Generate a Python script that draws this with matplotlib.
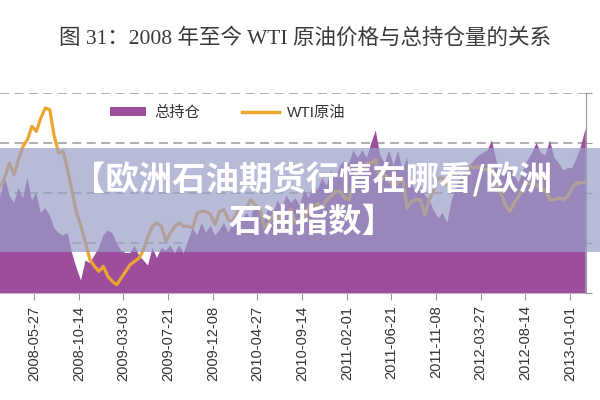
import matplotlib
matplotlib.use("Agg")
import matplotlib.pyplot as plt
from matplotlib.patches import Patch, Rectangle
from matplotlib.lines import Line2D
import pandas as pd

# biweekly samples starting 2008-01-29
start_date = "2008-01-29"

# total open interest (万手)
open_interest = [
    139, 139, 146, 139, 136, 142, 138, 146, 137, 140,
    132, 134, 131, 126, 124, 123, 124, 116, 110, 105,
    113, 112, 115, 118, 123, 125, 124, 120, 117, 116,
    116, 119, 115, 113, 111, 118, 114, 118, 117, 119,
    116, 119, 116, 121, 126, 123, 128, 124, 127, 123,
    125, 128, 124, 128, 131, 129, 132, 130, 135, 132,
    129, 134, 132, 137, 134, 139, 136, 138, 135, 141,
    138, 144, 141, 146, 143, 149, 146, 151, 153, 152,
    157, 154, 157, 154, 160, 165, 155, 152, 157, 151,
    157, 149, 154, 144, 140, 143, 139, 137, 133, 130,
    132, 128, 137, 142, 146, 148, 151, 153, 155, 156,
    157, 161, 153, 148, 150, 151, 147, 144, 149, 153,
    156, 160, 156, 155, 161, 154, 152, 149, 150, 150,
    154, 159, 166,
]

# WTI crude price (USD/bbl)
wti_price = [
    92, 94, 100, 108, 101, 110, 118, 122, 130, 127,
    135, 141, 140, 124, 114, 115, 104, 91, 78, 70,
    60, 50, 46, 43, 46, 40, 37, 35, 39, 43,
    47, 49, 51, 56, 64, 70, 72, 70, 61, 66,
    70, 72, 70, 70, 69, 78, 79, 79, 77, 71,
    79, 80, 74, 73, 79, 81, 81, 86, 83, 81,
    70, 72, 77, 75, 76, 78, 80, 72, 74, 74,
    82, 80, 84, 81, 86, 88, 91, 91, 87, 86,
    95, 104, 104, 108, 108, 110, 97, 101, 98, 93,
    96, 99, 81, 85, 86, 86, 77, 86, 92, 99,
    99, 95, 100, 102, 99, 98, 106, 105, 106, 104,
    104, 106, 94, 90, 83, 79, 84, 88, 93, 96,
    95, 95, 92, 92, 86, 86, 87, 86, 88, 93,
    96, 96, 97,
]

tick_labels = [
    "2008-05-27", "2008-10-14", "2009-03-03", "2009-07-21", "2009-12-08",
    "2010-04-27", "2010-09-14", "2011-02-01", "2011-06-21", "2011-11-08",
    "2012-03-27", "2012-08-14", "2013-01-01",
]

PURPLE = "#9c4e9c"
ORANGE = "#eca52f"
CJK = ["Liberation Sans", "Noto Sans CJK SC"]

dates = pd.date_range(start_date, periods=len(open_interest), freq="14D")

fig = plt.figure(figsize=(6, 4), dpi=100)
ax = fig.add_axes([0, 1 - 293 / 400, 585.7 / 600, 200 / 400])
ax2 = ax.twinx()

ax.fill_between(dates, open_interest, 0, color=PURPLE, linewidth=0)
ax.set_ylim(100, 180)
ax.set_yticks([100, 120, 140, 160, 180])
ax.grid(axis="y", color="#a8a8a8", linestyle=(0, (5, 3)), linewidth=1.3)
ax.set_axisbelow(True)
ax.tick_params(axis="y", left=False, labelleft=False)

ax2.plot(dates, wti_price, color=ORANGE, linewidth=2.3)
ax2.set_ylim(30, 150)
ax2.set_yticks([30, 60, 90, 120, 150])
ax2.tick_params(axis="y", right=True, labelright=False, length=4, color="#999999")

ax.set_xlim(pd.Timestamp("2008-02-10"), pd.Timestamp("2013-02-19"))
ax.set_xticks(pd.to_datetime(tick_labels))
ax.set_xticklabels(tick_labels, rotation=90, fontsize=10.5,
                   family="Liberation Sans", color="#333333")
ax.tick_params(axis="x", length=5, color="#999999", pad=4)

for s in ["top", "left", "right"]:
    ax.spines[s].set_visible(False)
ax.spines["bottom"].set_color("#bbbbbb")
for s in ["top", "left", "bottom"]:
    ax2.spines[s].set_visible(False)
ax2.spines["right"].set_color("#999999")

handles = [Patch(facecolor=PURPLE, edgecolor="none"),
           Line2D([], [], color=ORANGE, linewidth=2.5)]
fig.legend(handles, ["总持仓", "WTI原油"], loc="center",
           bbox_to_anchor=(0.379, 0.7175), ncol=2, frameon=False,
           prop={"family": CJK, "size": 11}, labelcolor="#333333",
           handlelength=2.4, handleheight=0.5, handletextpad=0.5,
           columnspacing=2.8)

fig.text(0.508, 0.905, "图 31：2008 年至今 WTI 原油价格与总持仓量的关系",
         ha="center", va="center", fontsize=15.5, color="#3a3a3a",
         family=["Liberation Serif", "Noto Sans CJK SC"])

# translucent banner over the chart
fig.add_artist(Rectangle((0, 1 - 252 / 400), 1, 104 / 400,
                         transform=fig.transFigure, facecolor=(153 / 255, 159 / 255, 200 / 255),
                         alpha=0.7, linewidth=0, zorder=10))
fig.text(0.52, 1 - 180 / 400, "【欧洲石油期货行情在哪看/欧洲", ha="center", va="center",
         fontsize=24, fontweight="bold", color="white",
         family=["Noto Sans CJK SC", "DejaVu Sans"], zorder=11)
fig.text(0.52, 1 - 222 / 400, "石油指数】", ha="center", va="center",
         fontsize=24, fontweight="bold", color="white",
         family=["Noto Sans CJK SC", "DejaVu Sans"], zorder=11)

fig.savefig("out.png", dpi=100)
